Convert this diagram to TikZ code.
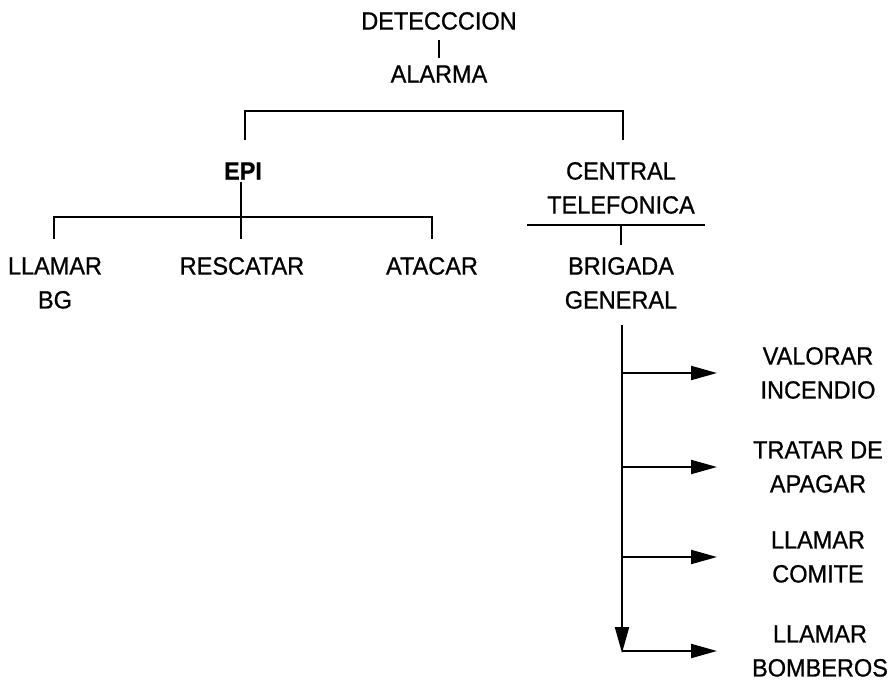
\documentclass[tikz,border=0pt]{standalone}
\usepackage{fontspec}
\setmainfont[FakeStretch=0.94,FakeBold=0.8]{Liberation Sans}
\usetikzlibrary{arrows.meta}
\begin{document}
\begin{tikzpicture}[x=1pt,y=-1pt,
  lbl/.style={font=\fontsize{25}{34}\selectfont, align=center, inner sep=0pt},
  conn/.style={line width=2.1pt},
  arr/.style={conn, -{Triangle[length=26pt,width=14pt]}}]
\useasboundingbox (0,0) rectangle (891,682);

% top of the chart
\node[lbl] (det) at (439,21) {DETECCCION};
\node[lbl] (ala) at (439,74) {ALARMA};
\draw[conn, shorten <=10pt, shorten >=7pt] (det) -- (ala);

% first split
\node[lbl] (epi) at (243,171) {\bfseries EPI};
\node[lbl] (cen) at (621,188) {CENTRAL\\TELEFONICA};
\coordinate (bl) at (245,140);
\coordinate (br) at (623,140);
\draw[conn] (bl) -- ++(0,-29) -| (br);

% actions of the EPI
\node[lbl] (llb) at (55,283) {LLAMAR\\BG};
\node[lbl] (res) at (242,266) {RESCATAR};
\node[lbl] (ata) at (432,266) {ATACAR};
\coordinate (ej) at (241,217);
\draw[conn, shorten <=11pt] (epi.center -| ej) -- (ej) -- (ej |- 0,239);
\draw[conn] (ej) -| (54,239);
\draw[conn] (ej) -| (432,239);

% central telefonica to brigada general
\node[lbl] (brg) at (621,283) {BRIGADA\\GENERAL};
\coordinate (cl) at (527,225);
\coordinate (cr) at (705,225);
\draw[conn] (cl) -- (cr);
\draw[conn] (cen.south |- cl) -- (621,245);

% tasks of the brigada general
\node[lbl] (val) at (818,373) {VALORAR\\INCENDIO};
\node[lbl] (tra) at (818,467) {TRATAR DE\\APAGAR};
\node[lbl] (com) at (818,557) {LLAMAR\\COMITE};
\node[lbl] (bom) at (820,651) {LLAMAR\\BOMBEROS};
\coordinate (vx) at (622,0);
\coordinate (tx) at (717,0);
\coordinate (vend) at (622,653);
\draw[arr, shorten <=16pt] (brg.south -| vx) -- (vend);
\foreach \n in {val,tra,com,bom}
  \draw[arr] (\n.west -| vx) -- (\n.west -| tx);
\end{tikzpicture}
\end{document}
